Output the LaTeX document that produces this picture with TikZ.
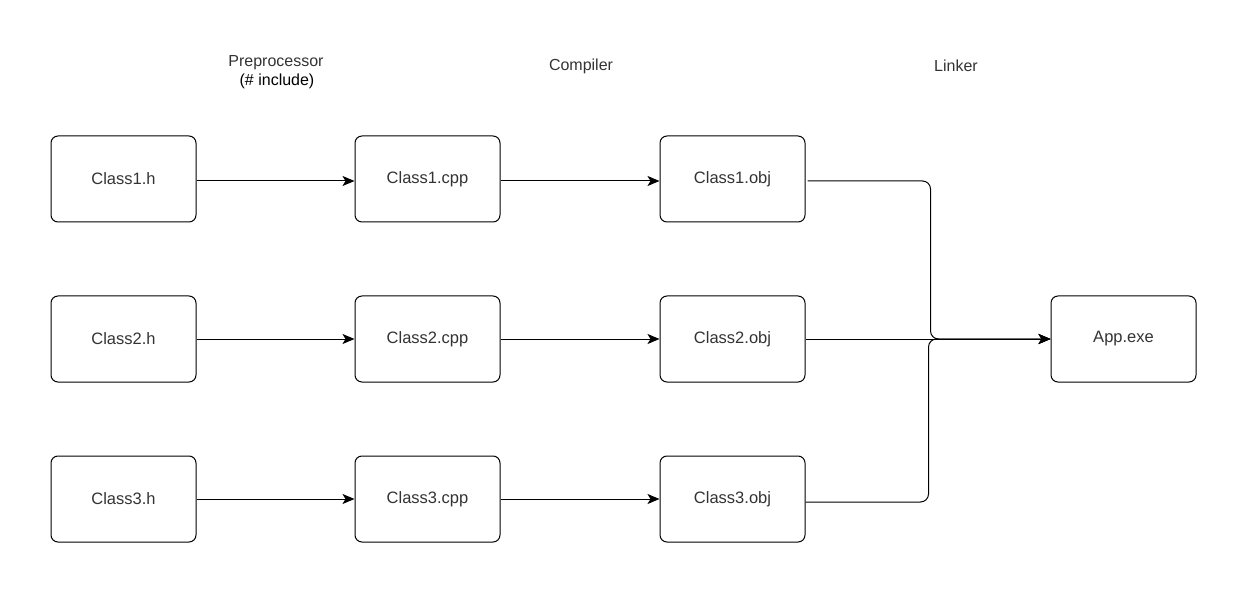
\documentclass[tikz,border=0pt]{standalone}
\usepackage{fontspec}
\setmainfont{Liberation Sans}
\usetikzlibrary{arrows.meta}
\definecolor{txt}{HTML}{333333}
\begin{document}
\begin{tikzpicture}[x=1pt,y=-1pt,
  filebox/.style={draw=black, line width=1pt, rounded corners=7pt, minimum width=145pt, minimum height=86pt, inner sep=0pt, text=txt, font=\fontsize{16.5}{19}\selectfont},
  stagelabel/.style={text=txt, font=\fontsize{16}{19}\selectfont, inner sep=0pt},
  flow/.style={draw=black, line width=1pt, -{Stealth[length=12pt,width=10pt,inset=3pt]}, rounded corners=8pt}]
\useasboundingbox (0,0) rectangle (1246,593);
\node[filebox] (h1) at (123.5,179) {Class1.h};
\node[filebox] (h2) at (123.5,339) {Class2.h};
\node[filebox] (h3) at (123.5,499) {Class3.h};
\node[filebox] (c1) at (427.5,179) {Class1.cpp};
\node[filebox] (c2) at (427.5,339) {Class2.cpp};
\node[filebox] (c3) at (427.5,499) {Class3.cpp};
\node[filebox] (o1) at (732.5,179) {Class1.obj};
\node[filebox] (o2) at (732.5,339) {Class2.obj};
\node[filebox] (o3) at (732.5,499) {Class3.obj};
\node[filebox] (app) at (1123.5,339) {App.exe};
\node[stagelabel] (pre) at (276,63) {Preprocessor};
\node[stagelabel, text=black] (inc) at (277,81) {(\# include)};
\node[stagelabel] (comp) at (581,66) {Compiler};
\node[stagelabel] (link) at (956,66) {Linker};
\draw[flow] ([yshift=-2pt]h1.east) -- ([yshift=-2pt]c1.west);
\draw[flow] (h2.east) -- (c2.west);
\draw[flow] (h3.east) -- (c3.west);
\draw[flow] ([yshift=-2pt]c1.east) -- ([yshift=-2pt]o1.west);
\draw[flow] (c2.east) -- (o2.west);
\draw[flow] (c3.east) -- (o3.west);
\draw[flow] ([xshift=2pt,yshift=-2pt]o1.east) -- ++(123,0) |- (app.west);
\draw[flow] (o2.east) -- (app.west);
\draw[flow] ([yshift=-3pt]o3.east) -- ++(123,0) |- (app.west);
\end{tikzpicture}
\end{document}
